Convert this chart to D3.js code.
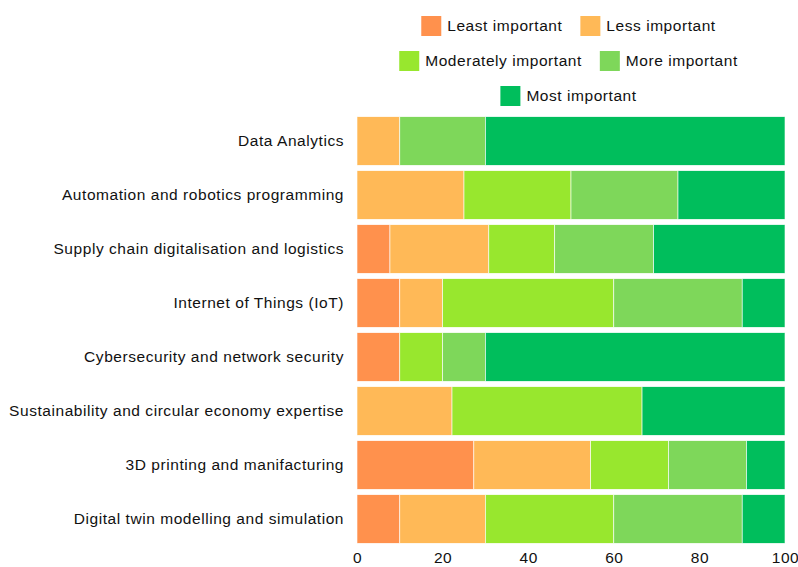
<!DOCTYPE html>
<html>
<head>
<meta charset="utf-8">
<script src="https://cdn.jsdelivr.net/npm/d3@7"></script>
<style>
  html, body { margin: 0; padding: 0; background: #fff; }
  svg { display: block; }
  text { font-family: "Liberation Sans", Arial, sans-serif; fill: #111; }
</style>
</head>
<body>
<svg id="chart" width="798" height="567"></svg>
<script>
// Skills and share of respondents (%) per importance level
const skills = [
  "Data Analytics",
  "Automation and robotics programming",
  "Supply chain digitalisation and logistics",
  "Internet of Things (IoT)",
  "Cybersecurity and network security",
  "Sustainability and circular economy expertise",
  "3D printing and manifacturing",
  "Digital twin modelling and simulation"
];
const levels = ["Least important", "Less important", "Moderately important", "More important", "Most important"];
const leastImportant      = [0,  0,  7.7, 10, 10, 0,    27.3, 10];
const lessImportant       = [10, 25, 23.1, 10, 0,  22.2, 27.3, 20];
const moderatelyImportant = [0,  25, 15.4, 40, 10, 44.4, 18.2, 30];
const moreImportant       = [20, 25, 23.1, 30, 10, 0,    18.2, 30];
const mostImportant       = [70, 25, 30.7, 10, 70, 33.4, 9.0,  10];
const xTicks = [0, 20, 40, 60, 80, 100];
const colors = ["#ff914d", "#ffb957", "#98e72e", "#7ed75a", "#00be5c"];

const seriesValues = [leastImportant, lessImportant, moderatelyImportant, moreImportant, mostImportant];
const rows = skills.map((s, i) => {
  const r = { skill: s };
  levels.forEach((l, j) => { r[l] = seriesValues[j][i]; });
  return r;
});

const svg = d3.select("#chart");
const W = 798, H = 567;
const margin = { left: 357, right: 13, top: 114, bottom: 21 };

const x = d3.scaleLinear().domain([0, 100]).range([margin.left, W - margin.right]);
const y = d3.scaleBand().domain(skills).range([margin.top, H - margin.bottom])
  .paddingInner(0.1).paddingOuter(0.05);
const color = d3.scaleOrdinal().domain(levels).range(colors);

const stack = d3.stack().keys(levels)(rows);

svg.append("g")
  .selectAll("g")
  .data(stack)
  .join("g")
    .attr("fill", d => color(d.key))
  .selectAll("rect")
  .data(d => d)
  .join("rect")
    .attr("x", d => x(d[0]))
    .attr("y", d => y(d.data.skill))
    .attr("width", d => Math.max(0, x(d[1]) - x(d[0])))
    .attr("height", y.bandwidth())
    .attr("stroke", "#fff")
    .attr("stroke-width", 0.6);

// category labels
const yAxis = svg.append("g")
  .attr("transform", `translate(${margin.left},0)`)
  .call(d3.axisLeft(y).tickSize(0).tickPadding(13));
yAxis.select(".domain").remove();
yAxis.selectAll("text")
  .style("font-family", "'Liberation Sans', Arial, sans-serif")
  .style("font-size", "15.5px")
  .style("letter-spacing", "0.55px")
  .attr("fill", "#111");

// value axis
const xAxis = svg.append("g")
  .attr("transform", `translate(0,${H - margin.bottom})`)
  .call(d3.axisBottom(x).tickValues(xTicks).tickSize(0).tickPadding(6));
xAxis.select(".domain").remove();
xAxis.selectAll("text")
  .style("font-family", "'Liberation Sans', Arial, sans-serif")
  .style("font-size", "15.5px")
  .style("letter-spacing", "0.55px")
  .attr("fill", "#111");

// legend, centred rows
const legendRows = [[levels[0], levels[1]], [levels[2], levels[3]], [levels[4]]];
const legendCenter = 568.5;
const sw = 20, gapText = 6, gapItem = 18, rowTop = 16, rowStep = 35;
legendRows.forEach((items, ri) => {
  const g = svg.append("g");
  let cx = 0;
  items.forEach((name, k) => {
    g.append("rect")
      .attr("x", cx).attr("y", rowTop + ri * rowStep)
      .attr("width", sw).attr("height", sw)
      .attr("fill", color(name));
    const t = g.append("text")
      .attr("x", cx + sw + gapText)
      .attr("y", rowTop + ri * rowStep + sw / 2)
      .attr("dy", "0.35em")
      .style("font-size", "15.5px")
      .style("letter-spacing", "0.55px")
      .text(name);
    cx += sw + gapText + t.node().getComputedTextLength() + (k < items.length - 1 ? gapItem : 0);
  });
  g.attr("transform", `translate(${legendCenter - cx / 2},0)`);
});
</script>
</body>
</html>
